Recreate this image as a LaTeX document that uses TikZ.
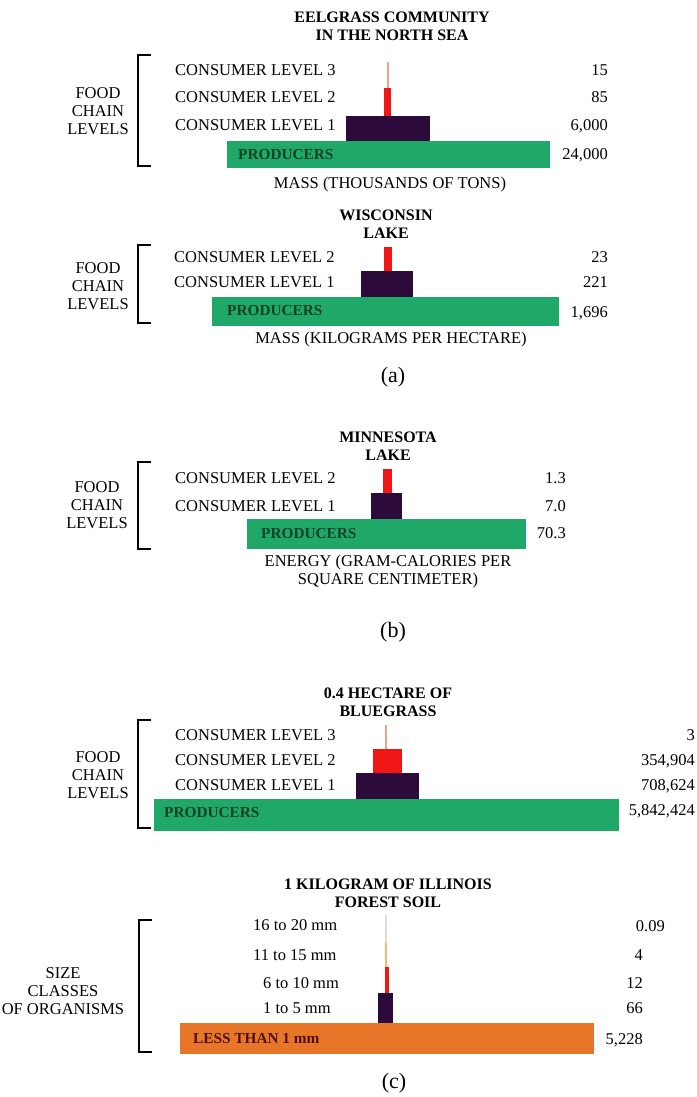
\documentclass[tikz,border=0pt]{standalone}
\usepackage{fontspec}
\setmainfont{Liberation Serif}
\usepackage{tikz}
\definecolor{grn}{RGB}{32,168,104}
\definecolor{dkgrn}{RGB}{18,66,38}
\definecolor{purp}{RGB}{44,10,58}
\definecolor{redbar}{RGB}{240,22,22}
\definecolor{paler}{RGB}{240,160,140}
\definecolor{palor}{RGB}{246,180,120}
\definecolor{faint}{RGB}{228,218,218}
\definecolor{orng}{RGB}{232,118,40}
\definecolor{dkbrn}{RGB}{80,16,16}

\begin{document}
\begin{tikzpicture}[x=1pt,y=-1pt,
   lbl/.style={font=\fontsize{16.5}{18}\selectfont,inner sep=0pt,text height=10.9pt,text depth=0pt},
   side/.style={font=\fontsize{16.5}{18}\selectfont,align=center,inner sep=0pt},
   ttl/.style={font=\bfseries\fontsize{16}{18}\selectfont,align=center,inner sep=0pt},
   base/.style={font=\bfseries\fontsize{15.3}{17}\selectfont,inner sep=0pt,text height=10.1pt,text depth=0pt,anchor=west},
   brk/.style={line width=1.8pt},
   tag/.style={font=\fontsize{22}{24}\selectfont,inner sep=0pt}]
   \useasboundingbox[fill=white] (0,0) rectangle (696,1097);

   \node[ttl] (eelttl) at (392,26) {EELGRASS COMMUNITY\\IN THE NORTH SEA};
   \draw[brk] (151,55) -- (138,55) -- (138,166) -- (151,166);
   \node[side] (eelside) at (98,111) {FOOD\\CHAIN\\LEVELS};
   \foreach \y/\n/\v in {70/3/15, 97/2/85, 125/1/{6,000}}{
      \node[lbl,anchor=west] (eelc\n) at (175,\y) {CONSUMER LEVEL \n};
      \node[lbl,anchor=east] (eelv\n) at (608,\y) {\v};
   }
   \draw[paler,line width=2pt] (387.5,62) -- (387.5,88);
   \fill[redbar] (384,88) rectangle (391,116);
   \fill[purp] (346,116) rectangle (430,141);
   \fill[grn] (227,141) rectangle (550,168);
   \node[base,text=dkgrn] (eelprod) at (238,154) {PRODUCERS};
   \node[lbl,anchor=east] (eelv0) at (608,154) {24,000};
   \node[lbl] (eelaxis) at (390,183) {MASS (THOUSANDS OF TONS)};

   \node[ttl] (wisttl) at (386,224) {WISCONSIN\\LAKE};
   \draw[brk] (151,245) -- (138,245) -- (138,323) -- (151,323);
   \node[side] (wisside) at (98,286) {FOOD\\CHAIN\\LEVELS};
   \foreach \y/\n/\v in {257/2/23, 282/1/221}{
      \node[lbl,anchor=west] (wisc\n) at (174,\y) {CONSUMER LEVEL \n};
      \node[lbl,anchor=east] (wisv\n) at (608,\y) {\v};
   }
   \fill[redbar] (384,247) rectangle (391.5,271);
   \fill[purp] (361,271) rectangle (413,297);
   \fill[grn] (212,297) rectangle (559,326);
   \node[base,text=dkgrn] (wisprod) at (227,310) {PRODUCERS};
   \node[lbl,anchor=east] (wisv0) at (608,312) {1,696};
   \node[lbl] (wisaxis) at (391,338) {MASS (KILOGRAMS PER HECTARE)};
   \node[tag] (taga) at (393,377) {(a)};

   \node[ttl] (minttl) at (388,446) {MINNESOTA\\LAKE};
   \draw[brk] (151,462) -- (138,462) -- (138,549) -- (151,549);
   \node[side] (minside) at (97,505) {FOOD\\CHAIN\\LEVELS};
   \foreach \y/\n/\v in {478/2/1.3, 506/1/7.0}{
      \node[lbl,anchor=west] (minc\n) at (175,\y) {CONSUMER LEVEL \n};
      \node[lbl,anchor=east] (minv\n) at (566,\y) {\v};
   }
   \fill[redbar] (382.6,469) rectangle (391.5,493);
   \fill[purp] (371,493) rectangle (402,519);
   \fill[grn] (247,519) rectangle (526,549);
   \node[base,text=dkgrn] (minprod) at (261,533) {PRODUCERS};
   \node[lbl,anchor=east] (minv0) at (566,533) {70.3};
   \node[side] (minaxis) at (388,571.5) {ENERGY (GRAM-CALORIES PER\\SQUARE CENTIMETER)};
   \node[tag] (tagb) at (393,632) {(b)};

   \node[ttl] (bluettl) at (388,702) {0.4 HECTARE OF\\BLUEGRASS};
   \draw[brk] (151,720) -- (138,720) -- (138,828) -- (151,828);
   \node[side] (blueside) at (98,775) {FOOD\\CHAIN\\LEVELS};
   \foreach \y/\n/\v in {735/3/3, 760/2/{354,904}, 785/1/{708,624}}{
      \node[lbl,anchor=west] (bluec\n) at (175,\y) {CONSUMER LEVEL \n};
      \node[lbl,anchor=east] (bluev\n) at (695,\y) {\v};
   }
   \draw[paler,line width=2pt] (386,725) -- (386,749);
   \fill[redbar] (373,749) rectangle (401.5,773);
   \fill[purp] (355.7,773) rectangle (419,799);
   \fill[grn] (154,799) rectangle (619,831);
   \node[base,text=dkgrn] (blueprod) at (164,812) {PRODUCERS};
   \node[lbl,anchor=east] (bluev0) at (695,810) {5,842,424};

   \node[ttl] (soilttl) at (388,893.5) {1 KILOGRAM OF ILLINOIS\\FOREST SOIL};
   \draw[brk] (152,920) -- (139,920) -- (139,1052) -- (152,1052);
   \node[side] (soilside) at (63,991) {SIZE\\CLASSES\\OF ORGANISMS};
   \node[lbl,anchor=west] (soils4) at (253,925) {16 to 20 mm};
   \node[lbl,anchor=west] (soils3) at (253,955) {11 to 15 mm};
   \node[lbl,anchor=west] (soils2) at (263,983) {6 to 10 mm};
   \node[lbl,anchor=west] (soils1) at (263,1008) {1 to 5 mm};
   \node[lbl,anchor=east] (soilv4) at (665,926) {0.09};
   \foreach \y/\n/\v in {955/3/4, 983/2/12, 1008/1/66, 1039/0/{5,228}}
      \node[lbl,anchor=east] (soilv\n) at (643,\y) {\v};
   \draw[faint,line width=2pt] (386,915) -- (386,943);
   \draw[palor,line width=2pt] (386,943) -- (386,967);
   \fill[redbar] (384.5,967) rectangle (388.5,993);
   \fill[purp] (378,993) rectangle (393,1023);
   \fill[orng] (180,1023) rectangle (594,1054);
   \node[base,text=dkbrn] (soilbase) at (193,1038) {LESS THAN 1 mm};
   \node[tag] (tagc) at (394,1083) {(c)};
\end{tikzpicture}
\end{document}
